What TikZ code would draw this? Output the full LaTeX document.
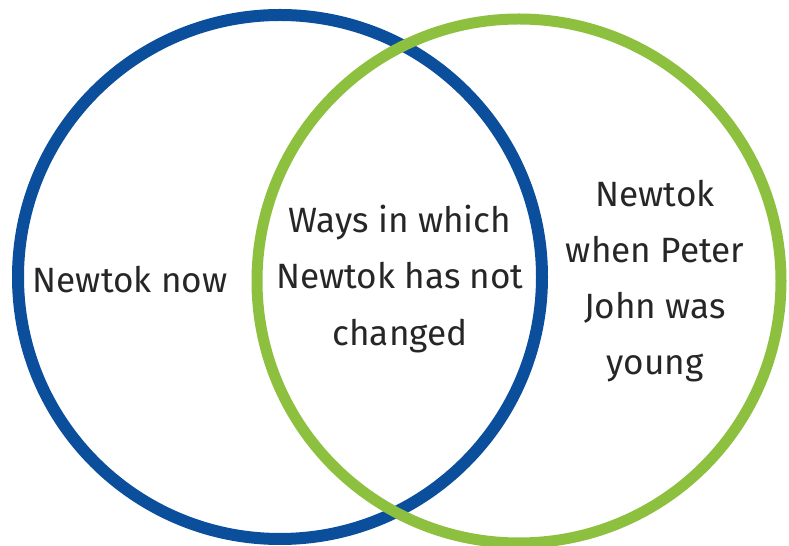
\documentclass[tikz,border=0pt]{standalone}
\usepackage{fontspec}
\setmainfont{Fira Sans}
\usetikzlibrary{positioning}
\definecolor{vnblue}{HTML}{0B4F9C}
\definecolor{vngreen}{HTML}{8DC03F}

\begin{document}
\begin{tikzpicture}[
  ring/.style={draw, circle, minimum size=10.48cm, inner sep=0pt},
  label/.style={align=center, font=\fontsize{20}{32}\selectfont, text=black!85}
]
  \useasboundingbox (0,0) rectangle (15.78,-10.92);

  % Circles
  \node[ring, draw=vnblue, line width=0.24cm] (now) at (5.6,-5.54) {};
  \node[ring, draw=vngreen, line width=0.22cm] (then) at (10.38,-5.62) {};

  % Labels
  \node[label] (nowtext) at (2.6,-5.6) {Newtok now};
  \node[label] (same) at (8.0,-5.58) {Ways in which\\Newtok has not\\changed};
  \node[label] (thentext) at (13.1,-5.62) {Newtok\\when Peter\\John was\\young};
\end{tikzpicture}
\end{document}
